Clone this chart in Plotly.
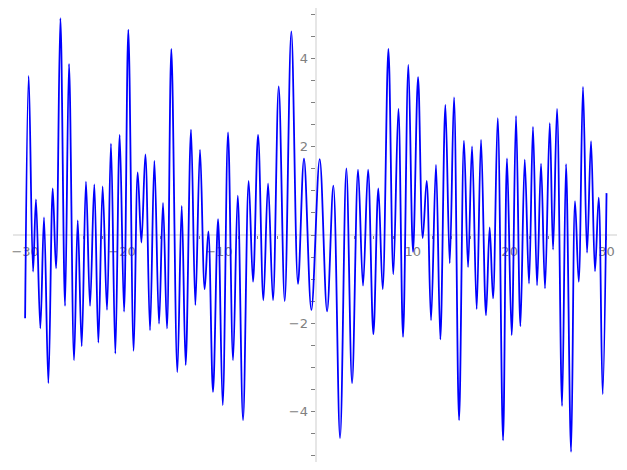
import plotly.graph_objects as go

# Turning points of the curve (x, y)
x_pts = [-30.0, -29.63, -29.18, -28.88, -28.43, -28.05, -27.60, -27.15, -26.81, -26.36,
         -25.88, -25.47, -24.95, -24.57, -24.16, -23.72, -23.30, -22.86, -22.44, -22.00,
         -21.55, -21.14, -20.69, -20.24, -19.79, -19.35, -18.80, -18.38, -18.00, -17.59,
         -17.11, -16.66, -16.18, -15.77, -15.36, -14.91, -14.29, -13.84, -13.43, -12.88,
         -12.43, -11.95, -11.47, -11.09, -10.61, -10.09, -9.61, -9.06, -8.54, -8.06,
         -7.51, -6.93, -6.48, -5.96, -5.41, -4.93, -4.42, -3.83, -3.21, -2.53,
         -1.84, -1.22, -0.46, 0.40, 1.16, 1.81, 2.50, 3.15, 3.74, 4.36,
         4.87, 5.39, 5.94, 6.45, 6.90, 7.49, 8.00, 8.52, 9.00, 9.55,
         10.03, 10.55, 11.03, 11.44, 11.89, 12.40, 12.85, 13.37, 13.82, 14.26,
         14.78, 15.29, 15.71, 16.12, 16.60, 17.05, 17.56, 17.94, 18.29, 18.77,
         19.32, 19.73, 20.21, 20.66, 21.11, 21.56, 22.00, 22.41, 22.83, 23.24,
         23.65, 24.14, 24.48, 24.89, 25.41, 25.82, 26.34, 26.75, 27.13, 27.57,
         27.99, 28.40, 28.81, 29.19, 29.60, 30.0]
y_pts = [-1.89, 3.61, -0.83, 0.81, -2.12, 0.40, -3.36, 1.06, -0.76, 4.92,
         -1.61, 3.88, -2.84, 0.33, -2.52, 1.21, -1.61, 1.15, -2.44, 1.10,
         -1.70, 2.07, -2.69, 2.27, -1.74, 4.66, -2.63, 1.42, -0.17, 1.83,
         -2.16, 1.68, -2.01, 0.73, -2.12, 4.22, -3.11, 0.66, -2.95, 2.39,
         -1.59, 1.93, -1.23, 0.08, -3.56, 0.36, -3.86, 2.33, -2.84, 0.89,
         -4.20, 1.23, -1.06, 2.27, -1.48, 1.17, -1.48, 3.37, -1.50, 4.62,
         -1.11, 1.73, -1.70, 1.72, -1.73, 1.12, -4.61, 1.51, -3.36, 1.48,
         -1.15, 1.48, -2.25, 1.06, -1.23, 4.22, -0.89, 2.86, -2.31, 3.86,
         -0.38, 3.58, -0.07, 1.23, -1.93, 1.59, -2.37, 2.95, -0.64, 3.12,
         -4.20, 2.14, -0.73, 2.01, -1.68, 2.16, -1.82, 0.17, -1.44, 2.65,
         -4.66, 1.74, -2.27, 2.70, -2.07, 1.71, -1.10, 2.45, -1.14, 1.62,
         -1.21, 2.54, -0.33, 2.86, -3.88, 1.61, -4.92, 0.77, -1.06, 3.36,
         -0.40, 2.13, -0.82, 0.85, -3.61, 0.95]

x_ticks = [-30, -20, -10, 10, 20, 30]
y_ticks = [-4, -2, 2, 4]

fig = go.Figure()
fig.add_trace(go.Scatter(
    x=x_pts, y=y_pts, mode="lines",
    line=dict(color="#0000ff", width=1.8, shape="spline", smoothing=1.0),
    hoverinfo="skip", showlegend=False,
))

axis_common = dict(
    showgrid=False, zeroline=False, showline=True,
    linecolor="#e6e6e6", linewidth=2,
    ticks="outside", ticklen=4, tickwidth=1, tickcolor="#808080",
    tickfont=dict(family="DejaVu Sans", size=13, color="#808080"),
    tickmode="array", anchor="free", automargin=False,
    layer="below traces",
)

fig.update_layout(
    width=627, height=470,
    margin=dict(l=5, r=18, t=0, b=16, autoexpand=False),
    paper_bgcolor="white", plot_bgcolor="white",
    xaxis=dict(range=[-31.25, 31.08], tickvals=x_ticks, position=0.5,
               minor=dict(dtick=2, tick0=0, ticks="outside", ticklen=3,
                          tickcolor="#808080", tickwidth=1),
               **axis_common),
    yaxis=dict(range=[-5.15, 5.15], tickvals=y_ticks, position=0.501,
               minor=dict(dtick=0.5, tick0=0, ticks="outside", ticklen=4,
                          tickcolor="#808080", tickwidth=1),
               **axis_common),
)

fig.write_html("out.html")
